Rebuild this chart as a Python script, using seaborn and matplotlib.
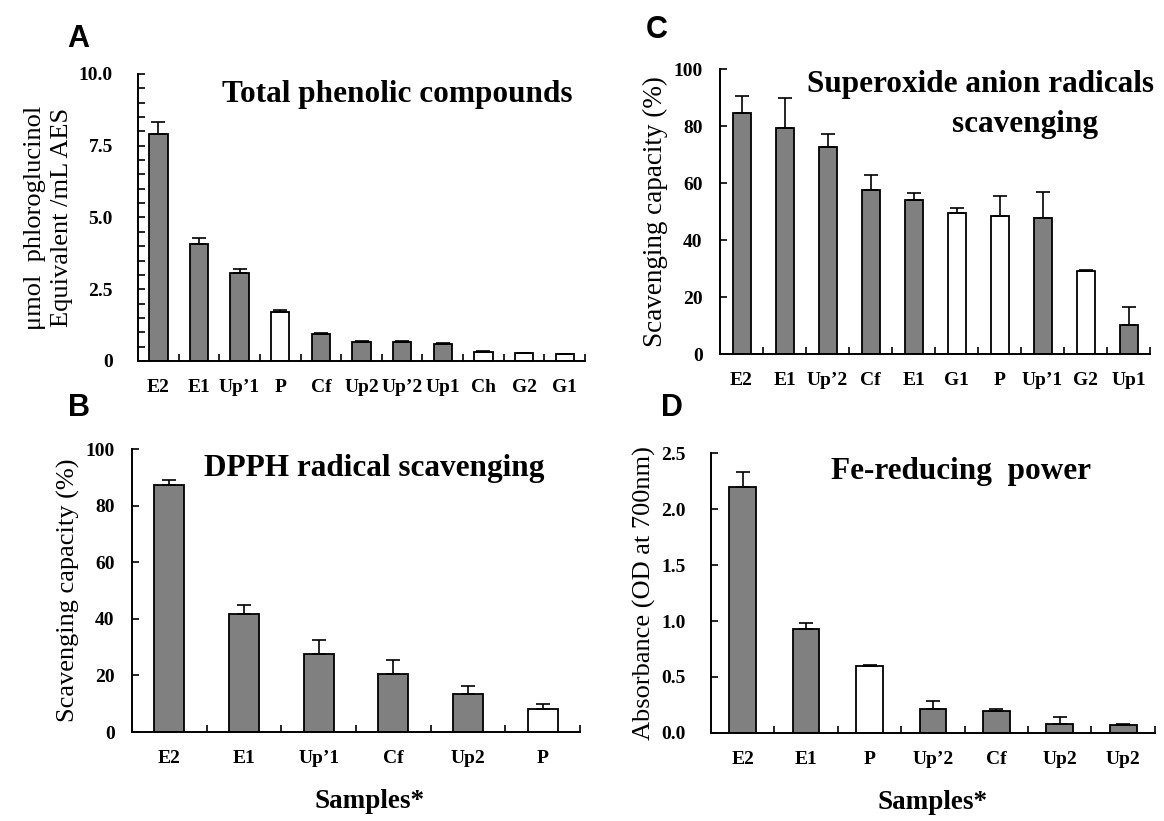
import numpy as np
import pandas as pd
import seaborn as sns
import matplotlib.pyplot as plt
from matplotlib.ticker import MultipleLocator

# Panel A - total phenolic compounds
a_labels = ["E2", "E1", "Up’1", "P", "Cf", "Up2", "Up’2", "Up1", "Ch", "G2", "G1"]
a_values = [7.92, 4.07, 3.06, 1.69, 0.93, 0.66, 0.66, 0.58, 0.31, 0.29, 0.26]
a_errors = [0.40, 0.21, 0.16, 0.09, 0.03, 0.04, 0.04, 0.03, 0.03, 0.0, 0.0]
a_fill = ["grey", "grey", "grey", "white", "grey", "grey", "grey", "grey", "white", "white", "white"]

# Panel B - DPPH radical scavenging
b_labels = ["E2", "E1", "Up’1", "Cf", "Up2", "P"]
b_values = [87.2, 41.8, 27.4, 20.6, 13.4, 8.2]
b_errors = [2.0, 3.1, 5.1, 4.7, 2.7, 1.8]
b_fill = ["grey", "grey", "grey", "grey", "grey", "white"]

# Panel C - superoxide anion radicals scavenging
c_labels = ["E2", "E1", "Up’2", "Cf", "E1", "G1", "P", "Up’1", "G2", "Up1"]
c_values = [84.5, 79.3, 72.5, 57.7, 54.0, 49.4, 48.4, 47.8, 29.3, 10.2]
c_errors = [6.1, 10.4, 4.6, 5.1, 2.5, 2.0, 7.0, 9.2, 0.3, 6.2]
c_fill = ["grey", "grey", "grey", "grey", "grey", "white", "white", "grey", "white", "grey"]

# Panel D - Fe-reducing power
d_labels = ["E2", "E1", "P", "Up’2", "Cf", "Up2", "Up2"]
d_values = [2.20, 0.93, 0.60, 0.21, 0.20, 0.08, 0.07]
d_errors = [0.13, 0.05, 0.01, 0.08, 0.01, 0.065, 0.008]
d_fill = ["grey", "grey", "white", "grey", "grey", "grey", "grey"]

colors = {"grey": "#808080", "white": "#ffffff"}

plt.rcParams["font.family"] = "Liberation Serif"
plt.rcParams["axes.linewidth"] = 1.4

fig = plt.figure(figsize=(11.64, 8.21), dpi=100)


def panel(rect, labels, values, errors, fill, ymax, yticks, yticklabels, ylabel,
          width=0.45, minor=None, xlabel=None, ypad=12.5, ylsize=19):
    ax = fig.add_axes(rect)
    df = pd.DataFrame({"pos": range(len(labels)), "value": values, "fill": fill})
    sns.barplot(data=df, x="pos", y="value", hue="fill", palette=colors, dodge=False,
                width=width, edgecolor="black", linewidth=1.3, legend=False, ax=ax)
    bars = sorted(ax.patches, key=lambda p: p.get_x())
    xs = [p.get_x() + p.get_width() / 2 for p in bars]
    tops = [p.get_height() for p in bars]
    errs = np.array(errors)
    ax.errorbar(xs, tops, yerr=[np.zeros_like(errs), errs], fmt="none",
                ecolor="black", elinewidth=1.2, capsize=5, capthick=1.2)
    ax.set_xlim(-0.5, len(labels) - 0.5)
    ax.set_ylim(0, ymax)
    ax.set_xticks(range(len(labels)))
    ax.set_xticklabels(labels, fontsize=14, fontweight="bold")
    ax.set_xticks(np.arange(0.5, len(labels), 1.0), minor=True)
    ax.tick_params(axis="x", which="major", length=0, pad=13)
    ax.tick_params(axis="x", which="minor", direction="in", length=5, width=1.2)
    ax.set_yticks(yticks)
    ax.set_yticklabels(yticklabels, fontsize=14, fontweight="bold")
    ax.tick_params(axis="y", which="both", direction="in", length=5, width=1.2, pad=ypad)
    if minor:
        ax.yaxis.set_minor_locator(MultipleLocator(minor))
    sns.despine(ax=ax)
    ax.set_ylabel(ylabel, fontsize=ylsize, linespacing=1.3)
    if xlabel:
        ax.set_xlabel(xlabel, fontsize=19.5, fontweight="bold", labelpad=16)
    else:
        ax.set_xlabel("")
    return ax


axA = panel([0.1186, 0.5603, 0.384, 0.3496], a_labels, a_values, a_errors, a_fill,
            10, [0, 2.5, 5, 7.5, 10], ["0", "2.5", "5.0", "7.5", "10.0"],
            "μmol  phloroglucinol\nEquivalent /mL AES", minor=0.5, ypad=18)
axA.text(0.971, 0.93, "Total phenolic compounds", transform=axA.transAxes,
         ha="right", va="center", fontsize=22.5, fontweight="bold")

axC = panel([0.6186, 0.5688, 0.3694, 0.3471], c_labels, c_values, c_errors, c_fill,
            100, [0, 20, 40, 60, 80, 100], ["0", "20", "40", "60", "80", "100"],
            "Scavenging capacity (%)", width=0.42, ylsize=19.5)
axC.text(1.01, 0.947, "Superoxide anion radicals", transform=axC.transAxes,
         ha="right", va="center", fontsize=22.5, fontweight="bold")
axC.text(0.71, 0.806, "scavenging", transform=axC.transAxes,
         ha="center", va="center", fontsize=22.5, fontweight="bold")

axB = panel([0.1134, 0.1084, 0.385, 0.3447], b_labels, b_values, b_errors, b_fill,
            100, [0, 20, 40, 60, 80, 100], ["0", "20", "40", "60", "80", "100"],
            "Scavenging capacity (%)", width=0.4, xlabel="Samples*")
axB.xaxis.set_label_coords(0.53, -0.2)
axB.text(0.54, 0.93, "DPPH radical scavenging", transform=axB.transAxes,
         ha="center", va="center", fontsize=22.5, fontweight="bold")

axD = panel([0.6108, 0.1072, 0.3814, 0.341], d_labels, d_values, d_errors, d_fill,
            2.5, [0, 0.5, 1.0, 1.5, 2.0, 2.5], ["0.0", "0.5", "1.0", "1.5", "2.0", "2.5"],
            "Absorbance (OD at 700nm)", width=0.42, xlabel="Samples*", ypad=18)
axD.text(0.563, 0.935, "Fe-reducing  power", transform=axD.transAxes,
         ha="center", va="center", fontsize=22.5, fontweight="bold")

for letter, x, y in [("A", 0.058, 0.953), ("C", 0.555, 0.963), ("B", 0.058, 0.503), ("D", 0.568, 0.503)]:
    fig.text(x, y, letter, fontsize=22, fontweight="bold", family="Liberation Sans",
             ha="left", va="center")

fig.savefig("out.png", dpi=100)
